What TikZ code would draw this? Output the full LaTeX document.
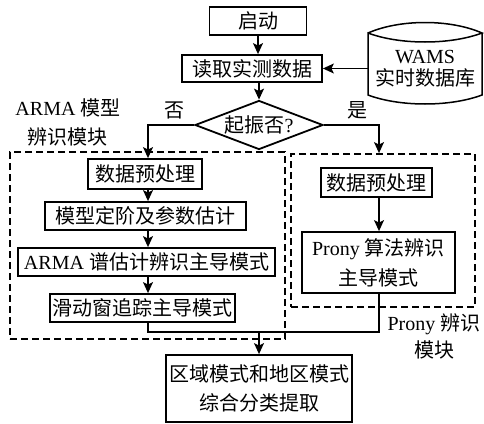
\documentclass[tikz,border=0pt]{standalone}
\usepackage{fontspec}
\setmainfont{Liberation Serif}
\newfontfamily\cjk{Noto Sans CJK SC}
\usetikzlibrary{arrows.meta,shapes.geometric}
\begin{document}
\begin{tikzpicture}[x=1pt,y=-1pt,
  font=\fontsize{20}{28}\selectfont,
  box/.style={draw, line width=1.8pt, inner sep=0pt, align=center},
  arr/.style={line width=1.3pt, -{Stealth[length=11pt,width=10pt,inset=2.5pt]}},
  ln/.style={line width=1.3pt},
  dbox/.style={draw, line width=1.8pt, dash pattern=on 7pt off 4pt, inner sep=0pt},
  lbl/.style={inner sep=0pt, align=center}]
\useasboundingbox (0,0) rectangle (484,423);

\coordinate (axL) at (148,0);
\coordinate (axR) at (379,0);

% dashed module frames
\node[dbox, minimum width=275pt, minimum height=187pt] (lmod) at (147.5,245.5) {};
\node[dbox, minimum width=184pt, minimum height=153pt] (rmod) at (383,230.5) {};

% main flow
\node[box, minimum width=97pt, minimum height=28pt] (start) at (258,21) {\cjk 启动};
\node[box, minimum width=140pt, minimum height=27pt] (read) at (252,68.5) {\cjk 读取实测数据};
\node[draw, diamond, line width=1.8pt, inner sep=0pt, minimum width=128pt, minimum height=49pt, fill=white] (dia) at (259,125) {\makebox[0pt]{\cjk 起振否\rmfamily ?}};

% database cylinder
\draw[line width=1.5pt] (368,33) .. controls (400,19) and (450,19) .. (482,33)
  .. controls (450,45) and (400,45) .. (368,33) -- (368,95)
  .. controls (400,107) and (450,107) .. (482,95) -- (482,33);
\node[lbl, minimum width=114pt, font=\fontsize{20}{22}\selectfont] (db) at (425,69) {WAMS\\{\cjk 实时数据库}};

% left branch
\node[box, minimum width=114pt, minimum height=30pt] (pre1) at (145,174) {\cjk 数据预处理};
\node[box, minimum width=201pt, minimum height=28pt] (est) at (145.5,216) {\cjk 模型定阶及参数估计};
\node[box, minimum width=257pt, minimum height=28pt] (arma) at (146.5,262) {ARMA {\cjk 谱估计辨识主导模式}};
\node[box, minimum width=185pt, minimum height=28pt] (slide) at (142.5,308) {\cjk 滑动窗追踪主导模式};

% right branch
\node[box, minimum width=111pt, minimum height=29pt] (pre2) at (376.5,182.5) {\cjk 数据预处理};
\node[box, minimum width=153pt, minimum height=61pt, font=\fontsize{20}{30}\selectfont] (prony) at (378.5,262.5) {Prony {\cjk 算法辨识}\\{\cjk 主导模式}};

% final
\node[box, minimum width=186pt, minimum height=67pt, font=\fontsize{20}{29}\selectfont] (final) at (259,388.5) {{\cjk 区域模式和地区模式}\\{\cjk 综合分类提取}};
\coordinate (join) at (259,332);

% labels
\node[lbl, font=\fontsize{20}{29}\selectfont] (lblA) at (68,122.5) {ARMA {\cjk 模型}\\{\cjk 辨识模块}};
\node[lbl, font=\fontsize{20}{27}\selectfont] (lblP) at (434,336.5) {Prony {\cjk 辨识}\\{\cjk 模块}};
\node[lbl] (no) at (174,110) {\cjk 否};
\node[lbl] (yes) at (357,110) {\cjk 是};

% connectors
\draw[arr] (start.south) -- (start.south |- read.north);
\draw[arr] (db.west |- read.east) -- (read.east);
\draw[arr] (read.south -| dia.north) -- (dia.north);
\draw[arr] (dia.west) -| (axL |- pre1.north);
\draw[arr] (dia.east) -| (axR |- rmod.north);
\draw[arr] (axL |- pre1.south) -- (axL |- est.north);
\draw[arr] (axL |- est.south) -- (axL |- arma.north);
\draw[arr] (axL |- arma.south) -- (axL |- slide.north);
\draw[arr] (axR |- pre2.south) -- (axR |- prony.north);
\draw[ln] (axL |- slide.south) |- (join);
\draw[ln] (axR |- prony.south) |- (join);
\draw[arr] (join) -- (final.north);
\end{tikzpicture}
\end{document}
